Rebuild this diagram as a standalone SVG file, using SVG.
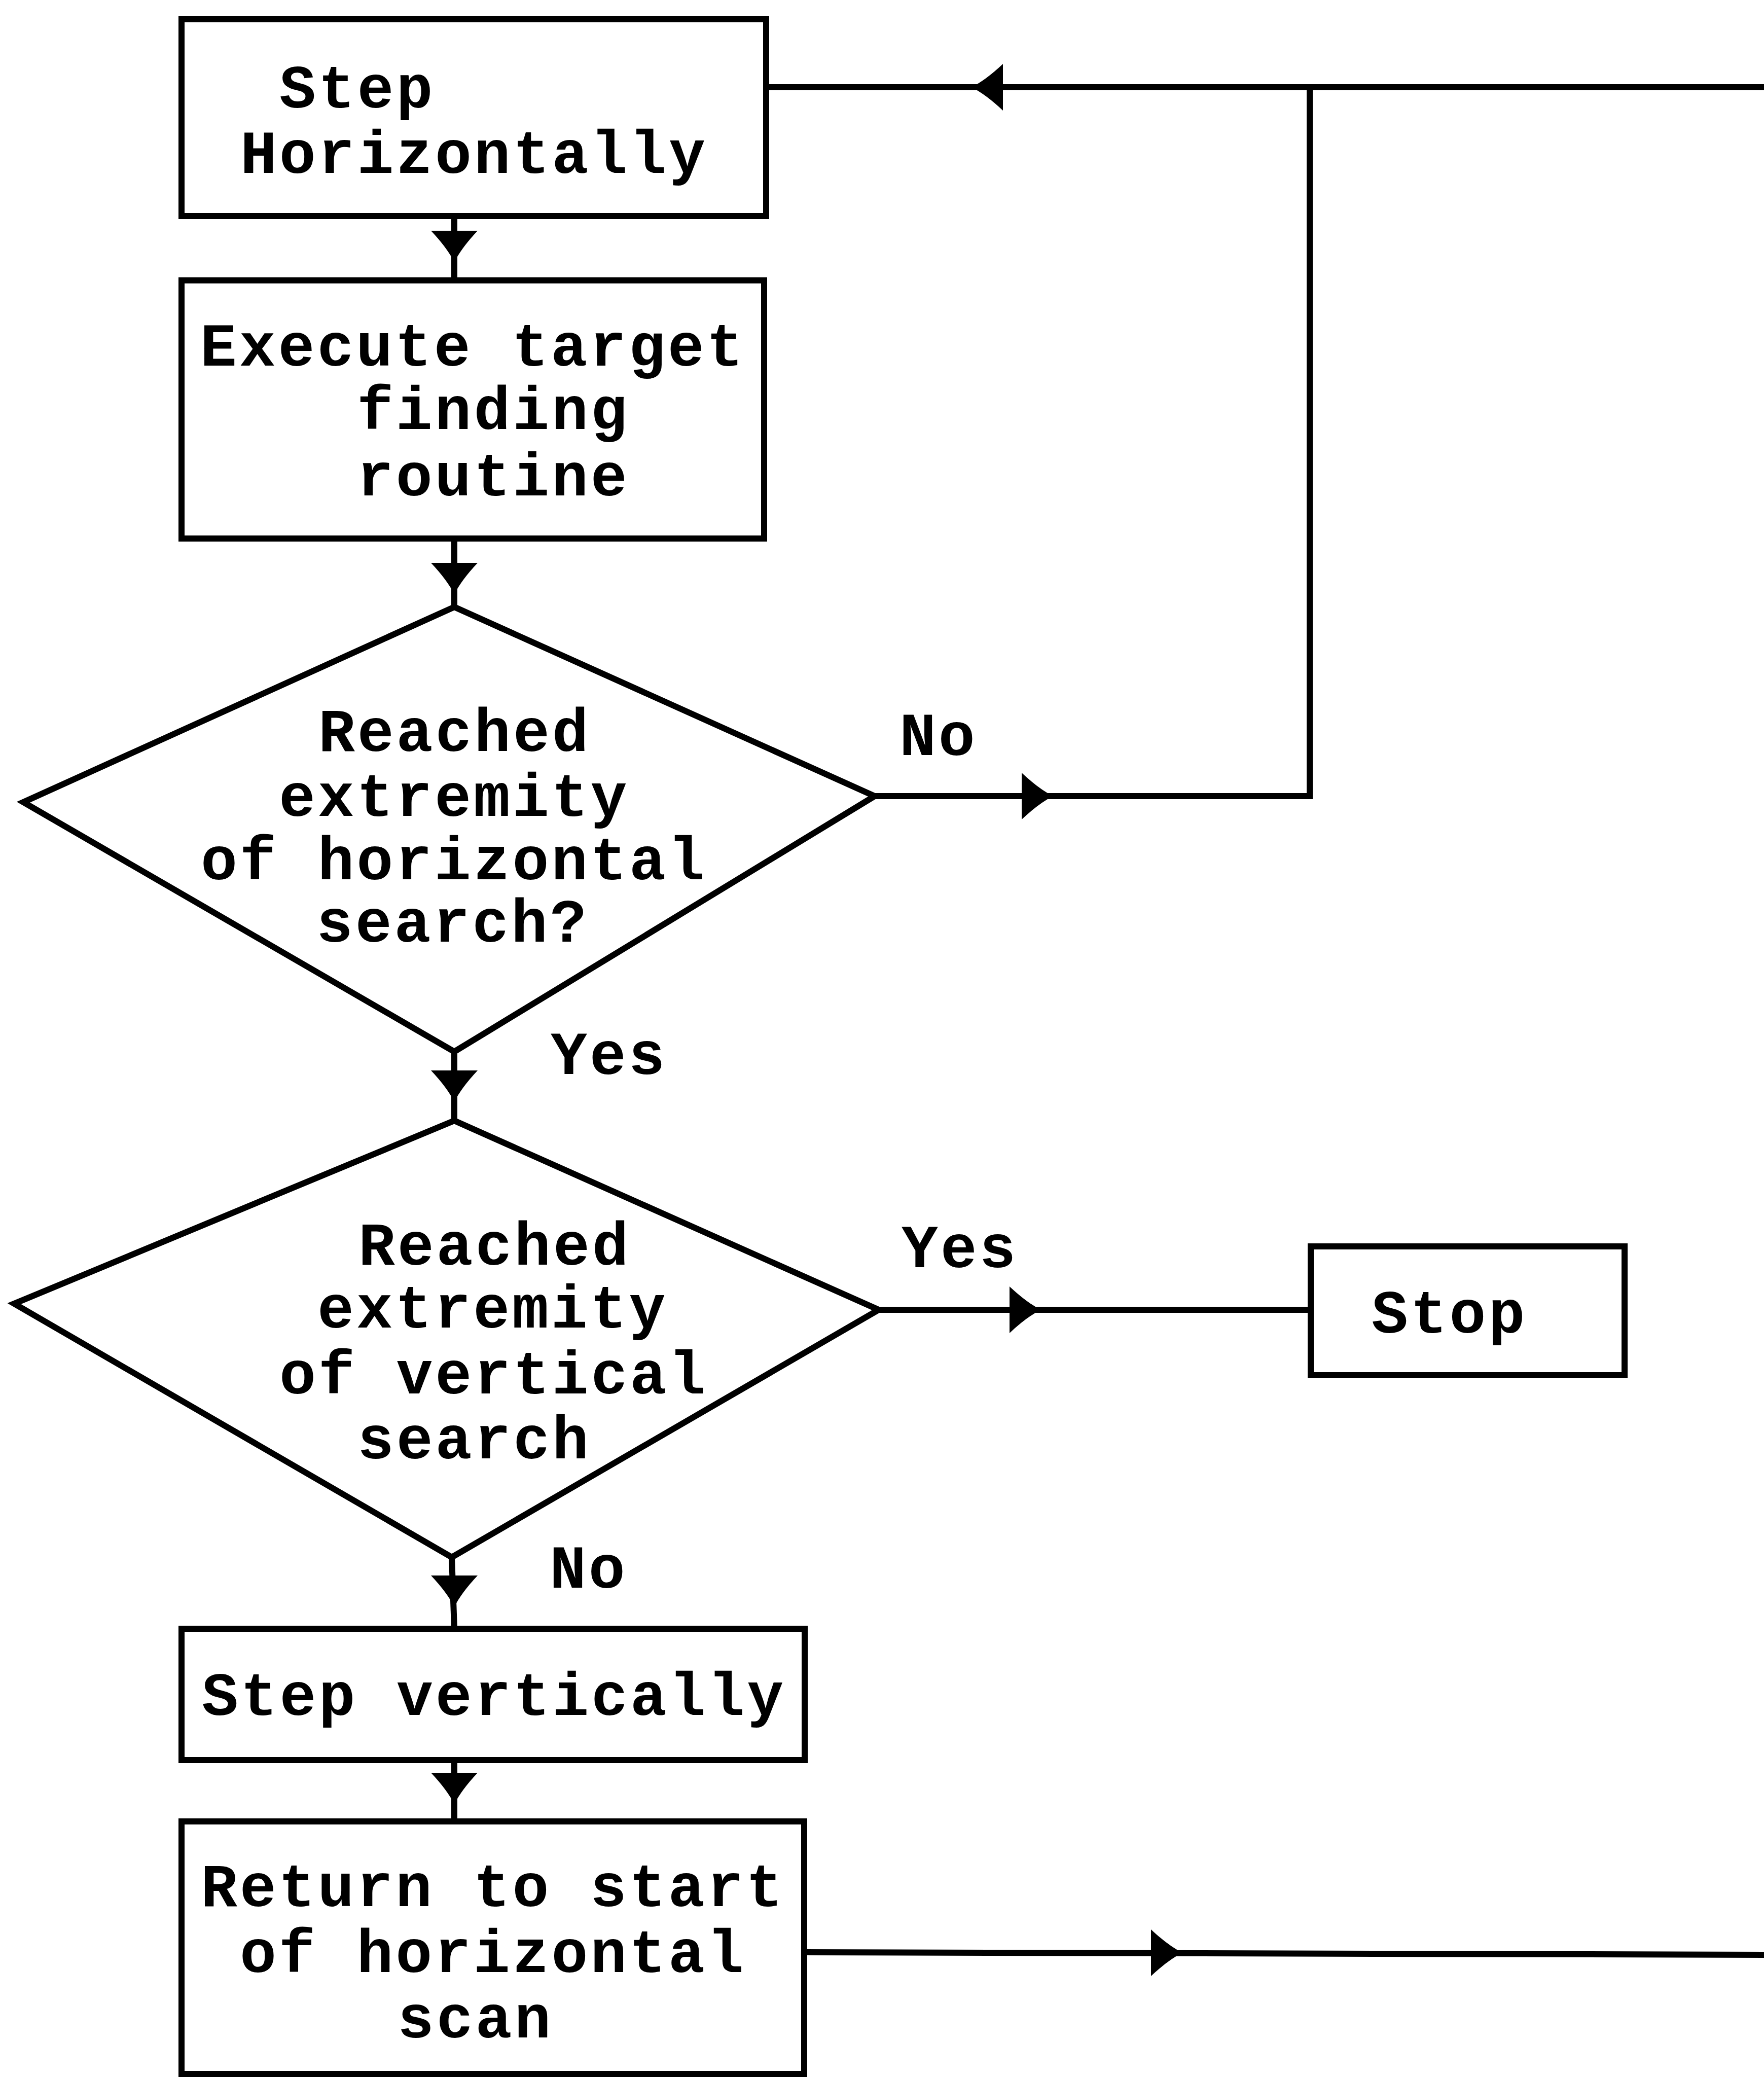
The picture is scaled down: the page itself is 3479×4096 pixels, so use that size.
<svg xmlns="http://www.w3.org/2000/svg" xmlns:xlink="http://www.w3.org/1999/xlink" width="3479" height="4096" viewBox="0 0 3479 4096">
<style>
.box{fill:#fff;stroke:#000;stroke-width:12}
.conn{fill:none;stroke:#000;stroke-width:12}
.t{font-family:"Liberation Mono","DejaVu Sans Mono",monospace;font-size:120px;letter-spacing:4.8px;font-weight:bold;fill:#000}
</style>
<defs>
<path id="ah" d="M0,0 Q-28,-14 -62,-46 L-62,46 Q-28,14 0,0 Z" fill="#000"/>
</defs>
<rect width="3479" height="4096" fill="#fff"/>
<g id="connectors">
<line class="conn" x1="896" y1="426" x2="896" y2="553"/>
<use xlink:href="#ah" transform="translate(896,517) rotate(90)"/>
<line class="conn" x1="896" y1="1062" x2="896" y2="1197"/>
<use xlink:href="#ah" transform="translate(896,1172) rotate(90)"/>
<line class="conn" x1="896" y1="2074" x2="896" y2="2210"/>
<use xlink:href="#ah" transform="translate(896,2173) rotate(90)"/>
<line class="conn" x1="891" y1="3071" x2="896" y2="3212"/>
<use xlink:href="#ah" transform="translate(896,3169) rotate(90)"/>
<line class="conn" x1="896" y1="3471" x2="896" y2="3592"/>
<use xlink:href="#ah" transform="translate(896,3558) rotate(90)"/>
<polyline class="conn" points="1725,1570 2583,1570 2583,172"/>
<use xlink:href="#ah" transform="translate(2077,1570)"/>
<line class="conn" x1="1511" y1="172" x2="3479" y2="172"/>
<use xlink:href="#ah" transform="translate(1916,172) rotate(180)"/>
<line class="conn" x1="1733" y1="2583" x2="2585" y2="2583"/>
<use xlink:href="#ah" transform="translate(2053,2583)"/>
<line class="conn" x1="1586" y1="3850" x2="3479" y2="3855"/>
<use xlink:href="#ah" transform="translate(2332,3851)"/>
<text class="t" x="1774" y="1489">No</text>
<text class="t" x="1086" y="2118">Yes</text>
<text class="t" x="1778" y="2499">Yes</text>
<text class="t" x="1084" y="3131">No</text>
</g>
<g id="step-horizontally">
<rect class="box" x="358" y="38" width="1153" height="388"/>
<text class="t" x="551" y="212">Step</text>
<text class="t" x="474" y="341">Horizontally</text>
</g>
<g id="execute-target">
<rect class="box" x="358" y="553" width="1149" height="509"/>
<text class="t" x="395" y="721">Execute target</text>
<text class="t" x="704" y="846">finding</text>
<text class="t" x="704" y="977">routine</text>
</g>
<g id="decision-horizontal">
<polygon class="box" points="896,1197 1725,1570 896,2074 46,1582"/>
<text class="t" x="628" y="1481">Reached</text>
<text class="t" x="550" y="1609">extremity</text>
<text class="t" x="396" y="1734">of horizontal</text>
<text class="t" x="624" y="1857">search?</text>
</g>
<g id="decision-vertical">
<polygon class="box" points="896,2210 1733,2583 891,3071 28,2571"/>
<text class="t" x="707" y="2494">Reached</text>
<text class="t" x="626" y="2618">extremity</text>
<text class="t" x="551" y="2748">of vertical</text>
<text class="t" x="705" y="2876">search</text>
</g>
<g id="stop">
<rect class="box" x="2585" y="2458" width="619" height="254"/>
<text class="t" x="2705" y="2628">Stop</text>
</g>
<g id="step-vertically">
<rect class="box" x="358" y="3212" width="1229" height="259"/>
<text class="t" x="398" y="3382">Step vertically</text>
</g>
<g id="return-to-start">
<rect class="box" x="358" y="3592" width="1228" height="498"/>
<text class="t" x="396" y="3759">Return to start</text>
<text class="t" x="473" y="3889">of horizontal</text>
<text class="t" x="784" y="4018">scan</text>
</g>
</svg>
